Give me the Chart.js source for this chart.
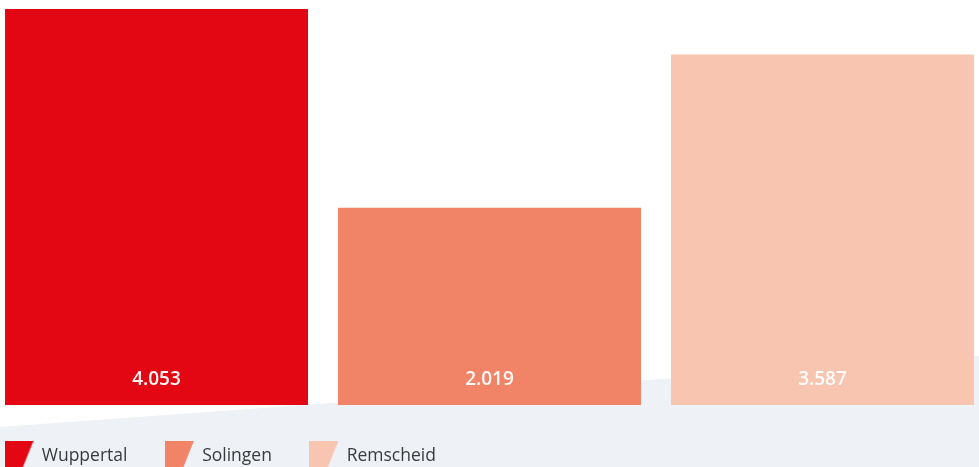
<!DOCTYPE html>
<html>
<head>
<meta charset="utf-8">
<script src="https://cdn.jsdelivr.net/npm/chart.js@4/dist/chart.umd.min.js"></script>
<style>
  html, body { margin: 0; padding: 0; background: #ffffff; }
  #wrap { width: 979px; height: 467px; position: relative; overflow: hidden; }
</style>
</head>
<body>
<div id="wrap"><canvas id="c" width="979" height="467"></canvas></div>
<script>
// ---- data ----
const categories = ['Wuppertal', 'Solingen', 'Remscheid'];
const values = [4053, 2019, 3587];
const valueLabels = ['4.053', '2.019', '3.587'];
const colors = ['#E30613', '#F18466', '#F8C5B0'];

// legend swatch: trapezoid (vertical left edge, slanted right edge)
function makeSwatch(color) {
  const c = document.createElement('canvas');
  c.width = 29; c.height = 30;
  const g = c.getContext('2d');
  g.fillStyle = color;
  g.beginPath();
  g.moveTo(0, 0); g.lineTo(29, 0); g.lineTo(17, 30); g.lineTo(0, 30);
  g.closePath(); g.fill();
  return c;
}
const swatches = colors.map(makeSwatch);

const bandPlugin = {
  id: 'band',
  beforeDraw(chart) {
    const ctx = chart.ctx, w = chart.width, h = chart.height;
    ctx.save();
    ctx.fillStyle = '#ffffff';
    ctx.fillRect(0, 0, w, h);
    ctx.fillStyle = '#EEF2F7';
    ctx.beginPath();
    ctx.moveTo(0, 427);
    ctx.lineTo(w, 356);
    ctx.lineTo(w, h);
    ctx.lineTo(0, h);
    ctx.closePath();
    ctx.fill();
    ctx.restore();
  }
};

const legendShift = {
  id: 'legendShift',
  afterLayout(chart) {
    const lg = chart.legend;
    if (!lg) return;
    lg.left -= 33; lg.right -= 33;
    lg.top += 4; lg.bottom += 4;
  }
};

const valueLabelPlugin = {
  id: 'valueLabels',
  afterDatasetsDraw(chart) {
    const ctx = chart.ctx;
    ctx.save();
    ctx.font = '600 19px "Open Sans", sans-serif';
    ctx.fillStyle = 'rgba(255,255,255,0.96)';
    ctx.textAlign = 'center';
    ctx.textBaseline = 'alphabetic';
    chart.data.datasets.forEach((ds, i) => {
      const meta = chart.getDatasetMeta(i);
      const el = meta.data[0];
      if (!el) return;
      const p = el.getProps(['x', 'base'], true);
      ctx.fillText(valueLabels[i], p.x, p.base - 20);
    });
    ctx.restore();
  }
};

new Chart(document.getElementById('c'), {
  type: 'bar',
  data: {
    labels: [''],
    datasets: categories.map((name, i) => ({
      label: name,
      data: [values[i]],
      backgroundColor: colors[i],
      borderWidth: 0,
      categoryPercentage: 999 / 979,
      barPercentage: 303 / 333
    }))
  },
  options: {
    responsive: false,
    animation: false,
    devicePixelRatio: 1,
    layout: { padding: { top: 9, left: 0, right: 0, bottom: 0 } },
    scales: {
      x: { display: false },
      y: { display: false, min: 0, max: 4053 }
    },
    plugins: {
      tooltip: { enabled: false },
      legend: {
        display: true,
        position: 'bottom',
        align: 'start',
        maxHeight: 62,
        labels: {
          usePointStyle: true,
          pointStyleWidth: 28,
          padding: 38,
          color: '#3a3a3a',
          font: { family: '"Open Sans", sans-serif', size: 17.5 },
          generateLabels(chart) {
            return chart.data.datasets.map((ds, i) => ({
              text: ds.label,
              fillStyle: colors[i],
              strokeStyle: 'transparent',
              lineWidth: 0,
              pointStyle: swatches[i],
              hidden: false,
              datasetIndex: i,
              fontColor: '#3a3a3a'
            }));
          }
        }
      }
    }
  },
  plugins: [bandPlugin, legendShift, valueLabelPlugin]
});
</script>
</body>
</html>
